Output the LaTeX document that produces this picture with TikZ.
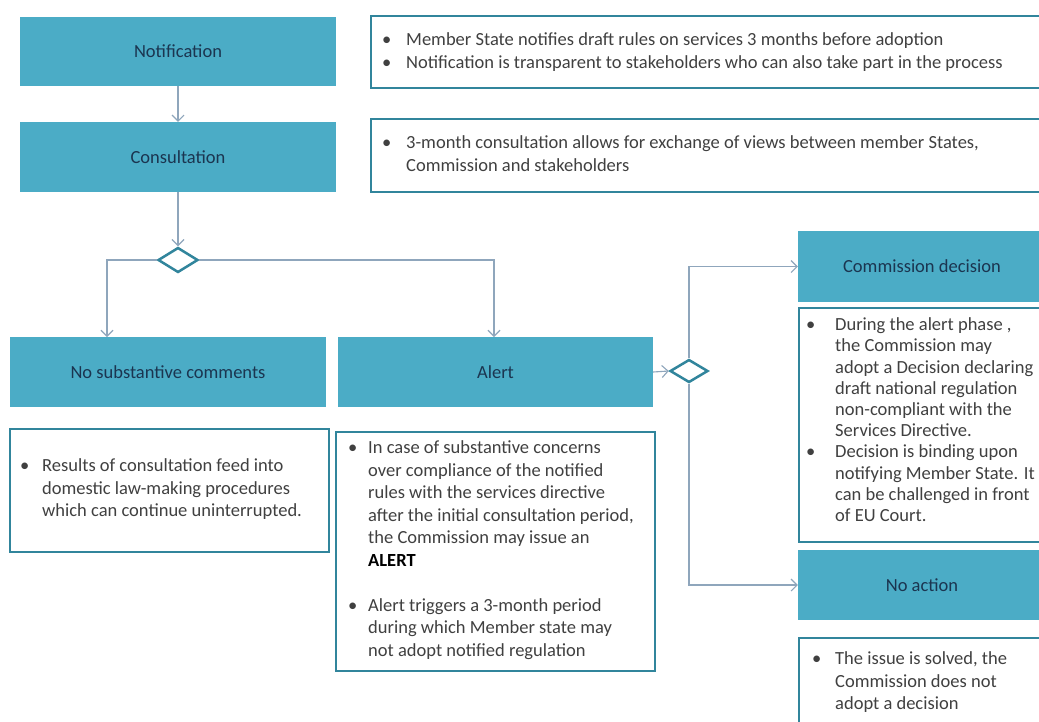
\documentclass[tikz,border=0pt]{standalone}
\usepackage{fontspec}
\setmainfont{Carlito}
\usetikzlibrary{arrows.meta,shapes.geometric,calc}
\definecolor{boxblue}{HTML}{4BACC6}
\definecolor{bordteal}{HTML}{31859C}
\definecolor{labnavy}{HTML}{1B3550}
\definecolor{bodygray}{HTML}{404040}
\definecolor{linegray}{HTML}{8FA6BC}
\begin{document}
\begin{tikzpicture}[x=1pt,y=-1pt,
  stepbox/.style={fill=boxblue, draw=none, inner sep=0, text=labnavy, font=\fontsize{18.5}{22}\selectfont},
  textbox/.style={draw=bordteal, line width=2pt, fill=white, inner sep=0, anchor=north west},
  bodytext/.style={inner sep=0, anchor=north west, text=bodygray, font=\fontsize{18.5}{22.5}\selectfont},
  decision/.style={diamond, draw=bordteal, line width=2.5pt, fill=white, inner sep=0, aspect=1.6},
  arr/.style={draw=linegray, line width=1.1pt, -{Straight Barb[length=6pt,width=12pt]}},
  conn/.style={draw=linegray, line width=1.1pt}]
\useasboundingbox (0,0) rectangle (1039,721);
\clip (0,0) rectangle (1039,721);
\fill[white] (0,0) rectangle (1039,721);

% main steps
\node[stepbox, minimum width=316, minimum height=69] (notif) at (178,51.5) {Notification};
\node[stepbox, minimum width=316, minimum height=70] (consult) at (178,157) {Consultation};
\node[stepbox, minimum width=316, minimum height=70] (nosub) at (168,372) {No substantive comments};
\node[stepbox, minimum width=315, minimum height=70] (alert) at (495.5,372) {Alert};
\node[stepbox, minimum width=248, minimum height=71] (comdec) at (922,266.5) {Commission decision};
\node[stepbox, minimum width=248, minimum height=70] (noact) at (922,585) {No action};

% text boxes
\node[textbox, minimum width=690, minimum height=72] (tb1) at (370,15) {};
\node[bodytext, font=\fontsize{18.5}{23}\selectfont] (tb1t) at (382,29.4) {\begin{tabular}{@{}p{24pt}@{}l@{}}
\textbullet & Member State notifies draft rules on services 3 months before adoption\\
\textbullet & Notification is transparent to stakeholders who can also take part in the process
\end{tabular}};

\node[textbox, minimum width=690, minimum height=73] (tb2) at (370,118) {};
\node[bodytext, font=\fontsize{18.5}{23}\selectfont] (tb2t) at (382,132.4) {\begin{tabular}{@{}p{24pt}@{}l@{}}
\textbullet & 3-month consultation allows for exchange of views between member States,\\
 & Commission and stakeholders
\end{tabular}};

\node[textbox, minimum width=319, minimum height=123] (tb5) at (9,428) {};
\node[bodytext] (tb5t) at (20,455.7) {\begin{tabular}{@{}p{22pt}@{}l@{}}
\textbullet & Results of consultation feed into\\
 & domestic law-making procedures\\
 & which can continue uninterrupted.
\end{tabular}};

\node[textbox, minimum width=319, minimum height=239] (tb6) at (335,431) {};
\node[bodytext] (tb6t) at (348,437.7) {\begin{tabular}{@{}p{20pt}@{}l@{}}
\textbullet & In case of substantive concerns\\
 & over compliance of the notified\\
 & rules with the services directive\\
 & after the initial consultation period,\\
 & the Commission may issue an\\
 & \textcolor{black}{\textbf{ALERT}}\\
 & \\
\textbullet & Alert triggers a 3-month period\\
 & during which Member state may\\
 & not adopt notified regulation
\end{tabular}};

\node[textbox, minimum width=260, minimum height=234] (tb3) at (798,307) {};
\node[bodytext, font=\fontsize{18.5}{21.2}\selectfont] (tb3t) at (806,315.7) {\begin{tabular}{@{}p{29pt}@{}l@{}}
\textbullet & During the alert phase ,\\
 & the Commission may\\
 & adopt a Decision declaring\\
 & draft national regulation\\
 & non-compliant with the\\
 & Services Directive.\\
\textbullet & Decision is binding upon\\
 & notifying Member State. It\\
 & can be challenged in front\\
 & of EU Court.
\end{tabular}};

\node[textbox, minimum width=260, minimum height=110] (tb4) at (798,637) {};
\node[bodytext] (tb4t) at (812,648.7) {\begin{tabular}{@{}p{23pt}@{}l@{}}
\textbullet & The issue is solved, the\\
 & Commission does not\\
 & adopt a decision
\end{tabular}};

% decisions
\node[decision, minimum width=40, minimum height=25] (d1) at (178,260) {};
\node[decision, minimum width=38, minimum height=23] (d2) at (689,371) {};

% connector end points
\coordinate (nsin) at (107,337);
\coordinate (alin) at (494,337);

% connectors
\draw[arr] (notif.south) -- (consult.north);
\draw[arr] (consult.south) -- (d1.north);
\draw[arr] (d1.west) -| (nsin);
\draw[arr] (d1.east) -| (alin);
\draw[arr] (alert.east) -- (d2.west);
\draw[arr] (d2.north) |- (comdec.west);
\draw[arr] (d2.south) |- (noact.west);
\end{tikzpicture}
\end{document}
